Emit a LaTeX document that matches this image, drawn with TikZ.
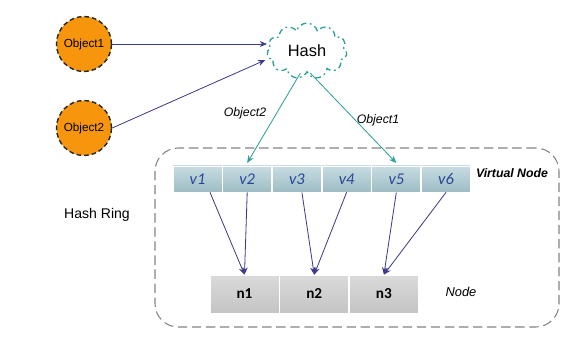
\documentclass[tikz,border=0pt]{standalone}
\usepackage{fontspec}
\setmainfont{Liberation Sans}
\newfontfamily\calibri{Carlito}
\usetikzlibrary{shapes.geometric,shapes.symbols,arrows.meta,positioning}
\definecolor{objorange}{RGB}{247,150,12}
\definecolor{hashteal}{RGB}{40,160,150}
\definecolor{linkblue}{RGB}{62,58,140}
\definecolor{vtext}{RGB}{40,70,150}
\definecolor{vtop}{RGB}{200,220,226}
\definecolor{vbot}{RGB}{158,188,196}
\definecolor{ntop}{RGB}{218,218,218}
\definecolor{nmid}{RGB}{178,178,178}
\definecolor{ringgray}{RGB}{130,130,130}

\begin{document}
\begin{tikzpicture}[x=0.3mm, y=-0.3mm,
  obj/.style={circle, draw=black!85, dash pattern=on 4pt off 2.5pt, line width=1.2pt, fill=objorange,
    minimum size=16.5mm, inner sep=0pt, font=\fontsize{10}{12}\selectfont},
  hash/.style={cloud, cloud puffs=11, aspect=1.5, draw=hashteal,
    dash pattern=on 5pt off 3pt on 1.5pt off 3pt, line width=1.1pt,
    minimum width=24mm, minimum height=16mm, font=\fontsize{14}{16}\selectfont},
  vcell/.style={rectangle, draw=white, line width=0.6pt, top color=vtop, bottom color=vbot,
    minimum width=14.7mm, minimum height=7.8mm, inner sep=0pt, text=vtext,
    font=\calibri\itshape\fontsize{14}{16}\selectfont},
  ncell/.style={rectangle, draw=white, line width=0.6pt, top color=ntop, middle color=nmid,
    bottom color=ntop!90!black, minimum width=20.7mm, minimum height=11.4mm, inner sep=0pt,
    font=\calibri\bfseries\fontsize{13}{15}\selectfont},
  ring/.style={rectangle, rounded corners=7mm, draw=ringgray, dash pattern=on 8pt off 4pt,
    line width=0.9pt, minimum width=121.2mm, minimum height=53.7mm},
  lbl/.style={font=\itshape\fontsize{10.5}{12}\selectfont},
  tag/.style={font=\bfseries\itshape\fontsize{10.5}{12}\selectfont},
  link/.style={-{Stealth[length=2.2mm, width=1.8mm]}, linkblue, line width=0.7pt},
  harr/.style={-{Stealth[length=2.2mm, width=1.8mm]}, hashteal, line width=0.7pt}]
\useasboundingbox (0,0) rectangle (584,339);
% objects and hash
\node[obj] (obj1) at (84,44) {Object1};
\node[obj] (obj2) at (84,128) {Object2};
\node[hash] (hash) at (307,51) {Hash};
\draw[link] (obj1) -- (obj1 -| hash.west);
\draw[link] (obj2.east) -- ([xshift=-0.5mm, yshift=-2.7mm]hash.west);
% ring
\node[ring] (ring) at (357,237.5) {};
\node[font=\fontsize{12}{14}\selectfont] (ringlbl) at (97,215) {Hash Ring};
% virtual nodes
\node[vcell] (v1) at (197.5,179) {v1};
\node[vcell, right=0pt of v1] (v2) {v2};
\node[vcell, right=0pt of v2] (v3) {v3};
\node[vcell, right=0pt of v3] (v4) {v4};
\node[vcell, right=0pt of v4] (v5) {v5};
\node[vcell, right=0pt of v5] (v6) {v6};
\node[tag] (vtag) at (512,173) {Virtual Node};
% real nodes
\node[ncell] (n1) at (244.5,294) {n1};
\node[ncell, right=0pt of n1] (n2) {n2};
\node[ncell, right=0pt of n2] (n3) {n3};
\node[lbl, font=\itshape\fontsize{11}{13}\selectfont] (ntag) at (461,292) {Node};
% hashing
\draw[harr] ([xshift=-2mm]hash.south) -- ([yshift=0.8mm]v2.north);
\draw[harr] ([xshift=1mm]hash.south) -- ([yshift=0.8mm]v5.north);
\node[lbl] (lbl2) at (245,113) {Object2};
\node[lbl] (lbl1) at (378,120) {Object1};
% mapping
\draw[link] ([xshift=3.75mm]v1.south) -- (n1.north);
\draw[link] (v2.south) -- (n1.north);
\draw[link] ([xshift=1.5mm]v3.south) -- (n2.north);
\draw[link] (v4.south) -- (n2.north);
\draw[link] (v5.south) -- (n3.north);
\draw[link] (v6.south) -- (n3.north);
\end{tikzpicture}
\end{document}
